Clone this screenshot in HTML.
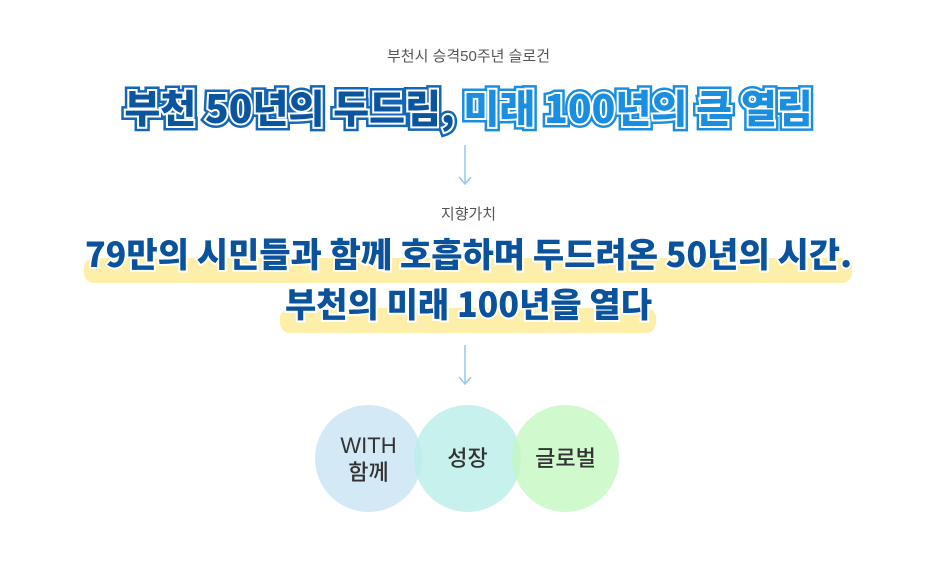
<!DOCTYPE html>
<html><head><meta charset="utf-8"><style>
html,body{margin:0;padding:0;background:#fff;}
body{width:937px;height:562px;position:relative;overflow:hidden;font-family:"Liberation Sans","Noto Sans CJK KR",sans-serif;}
.c{position:absolute;left:0;width:937px;text-align:center;white-space:nowrap;}
.sub{font-size:15px;color:#555;}
.t{font-size:39px;font-weight:900;letter-spacing:0px;top:79px;font-family:"Noto Sans CJK KR",sans-serif;}
.t span{paint-order:stroke fill;}
.t.o span{-webkit-text-stroke:9px #1466b8;color:transparent;}
.t.o span.l{-webkit-text-stroke:9px #1a8ee0;}
.t.i span{-webkit-text-stroke:4px #fff;color:#0b559f;}
.t.i span.l{color:#1a8ee0;}
.hl{position:absolute;background:#fdeeaa;border-radius:10px;}
.v{font-size:34px;font-weight:900;letter-spacing:0px;color:#0b529c;font-family:"Noto Sans CJK KR",sans-serif;line-height:50px;}
.v span{-webkit-text-stroke:4px #fff;paint-order:stroke fill;}
.circ{position:absolute;width:107px;height:107px;border-radius:50%;display:flex;align-items:center;justify-content:center;text-align:center;color:#333;font-size:22px;font-weight:500;line-height:27px;font-family:"Liberation Sans","Noto Sans CJK KR",sans-serif;}
</style></head><body>
<div class="c sub" style="top:45px;">부천시 승격50주년 슬로건</div>
<div class="c t o"><span>부천 50년의 두드림, </span><span class="l">미래 100년의 큰 열림</span></div>
<div class="c t i"><span>부천 50년의 두드림, </span><span class="l">미래 100년의 큰 열림</span></div>
<svg style="position:absolute;left:0;top:0" width="937" height="562">
<g stroke="#8fcbea" stroke-width="1.5" fill="none">
<line x1="465" y1="145" x2="465" y2="184"/><polyline points="459,177 465,184 471,177"/>
<line x1="465" y1="345" x2="465" y2="384"/><polyline points="459,377 465,384 471,377"/>
</g></svg>
<div class="c sub" style="top:203px;">지향가치</div>
<div class="hl" style="left:84px;top:258px;width:768px;height:25px;"></div>
<div class="hl" style="left:280px;top:308px;width:376px;height:25px;"></div>
<div class="c v" style="top:228px;"><span>79만의 시민들과 함께 호흡하며 두드려온 50년의 시간.</span></div>
<div class="c v" style="top:278px;"><span>부천의 미래 100년을 열다</span></div>
<div class="circ" style="left:315px;top:405px;background:rgba(200,228,243,0.8);">WITH<br>함께</div>
<div class="circ" style="left:414px;top:405px;background:rgba(185,238,232,0.8);">성장</div>
<div class="circ" style="left:512px;top:405px;background:rgba(196,247,192,0.8);">글로벌</div>
</body></html>
